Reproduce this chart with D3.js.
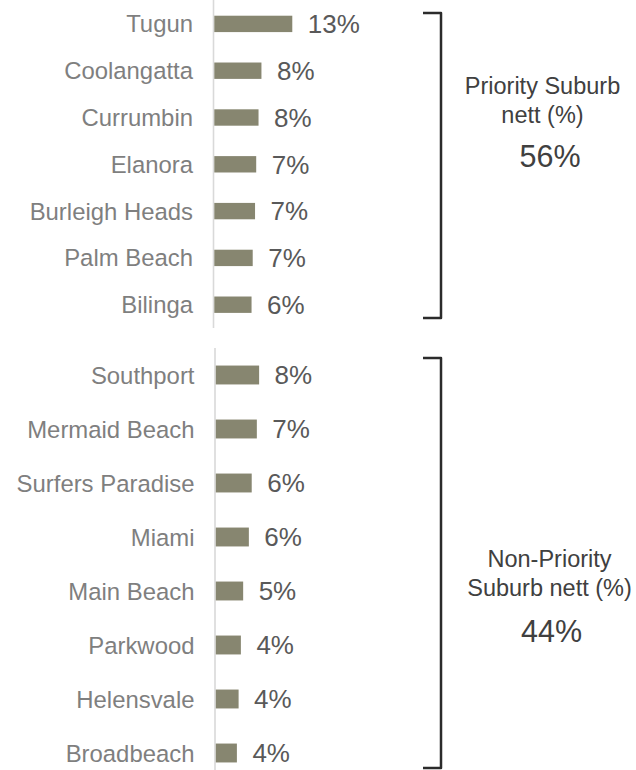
<!DOCTYPE html>
<html>
<head>
<meta charset="utf-8">
<script src="https://cdn.jsdelivr.net/npm/d3@7"></script>
<style>
  html, body { margin: 0; padding: 0; background: #fff; }
  svg { display: block; font-family: "Liberation Sans", Arial, sans-serif; }
</style>
</head>
<body>
<svg id="chart" width="636" height="770"></svg>
<script>
// ---- data ----
const priorityCategories = ["Tugun", "Coolangatta", "Currumbin", "Elanora", "Burleigh Heads", "Palm Beach", "Bilinga"];
const priorityValues = [13.4, 8.1, 7.6, 7.2, 7.0, 6.6, 6.4];
const nonPriorityCategories = ["Southport", "Mermaid Beach", "Surfers Paradise", "Miami", "Main Beach", "Parkwood", "Helensvale", "Broadbeach"];
const nonPriorityValues = [7.6, 7.2, 6.3, 5.8, 4.8, 4.4, 4.0, 3.7];
const groupTitles = [["Priority Suburb", "nett (%)"], ["Non-Priority", "Suburb nett (%)"]];
const groupTotals = ["56%", "44%"];

const svg = d3.select("#chart");
const barColor = "#878670";
const fmt = v => Math.round(v) + "%";

function panel(cats, vals, cfg) {
  const y = d3.scaleBand().domain(cats).range(cfg.yRange).paddingInner(0.65).paddingOuter(0.325);
  const x = d3.scaleLinear().domain([0, 20]).range([0, 20 * cfg.pxPerUnit]);
  const g = svg.append("g");

  // category axis
  const axis = d3.axisLeft(y).tickSize(0).tickSizeOuter(0).tickPadding(20.5);
  const ag = g.append("g").attr("transform", `translate(${cfg.axisX},0)`).call(axis);
  ag.attr("font-family", '"Liberation Sans", Arial, sans-serif');
  ag.select(".domain").attr("stroke", "#d9d9d9").attr("stroke-width", 1.6)
    .attr("d", `M0,${cfg.lineRange[0]}V${cfg.lineRange[1]}`);
  ag.selectAll(".tick text")
    .attr("fill", "#7f7f7f").attr("font-size", "23.9px")
    .attr("dy", null).attr("y", 8.5);

  const data = cats.map((c, i) => ({ c, v: vals[i] }));
  g.selectAll("rect.bar").data(data).join("rect")
    .attr("class", "bar")
    .attr("x", cfg.barX)
    .attr("y", d => y(d.c))
    .attr("width", d => x(d.v))
    .attr("height", y.bandwidth())
    .attr("fill", barColor);

  g.selectAll("text.val").data(data).join("text")
    .attr("class", "val")
    .attr("x", d => cfg.barX + x(d.v) + 15.5)
    .attr("y", d => y(d.c) + y.bandwidth() / 2 + 9.3)
    .attr("fill", "#595959").attr("font-size", "26px")
    .text(d => fmt(d.v));
}

panel(priorityCategories, priorityValues, {
  yRange: [0.5, 328.1], axisX: 213.5, barX: 214.3, pxPerUnit: 5.82, lineRange: [0, 328]
});
panel(nonPriorityCategories, nonPriorityValues, {
  yRange: [348, 780], axisX: 215, barX: 215.8, pxPerUnit: 5.7, lineRange: [348, 770]
});

// brackets
const brackets = [[13, 318], [358, 768]];
brackets.forEach(b => {
  svg.append("path")
    .attr("d", `M423,${b[0]}H441V${b[1]}H423`)
    .attr("fill", "none").attr("stroke", "#2b2b2b").attr("stroke-width", 2.5)
    .attr("stroke-linejoin", "round");
});

// annotations
const ann = [
  { cx: 542.5, ys: [94, 123], tcx: 550, ty: 167 },
  { cx: 549.5, ys: [567, 596], tcx: 551.5, ty: 642 }
];
ann.forEach((a, i) => {
  groupTitles[i].forEach((t, j) => {
    svg.append("text").attr("x", a.cx).attr("y", a.ys[j])
      .attr("text-anchor", "middle").attr("fill", "#404040").attr("font-size", "23.5px").text(t);
  });
  svg.append("text").attr("x", a.tcx).attr("y", a.ty)
    .attr("text-anchor", "middle").attr("fill", "#404040").attr("font-size", "30.5px").text(groupTotals[i]);
});
</script>
</body>
</html>
